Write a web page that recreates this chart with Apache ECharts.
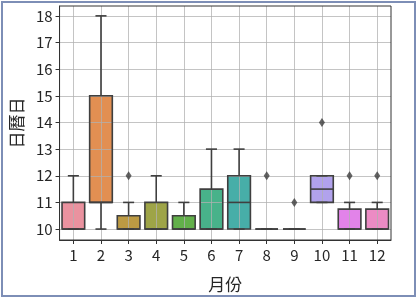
<!DOCTYPE html>
<html>
<head>
<meta charset="utf-8">
<script src="https://cdn.jsdelivr.net/npm/echarts@6/dist/echarts.min.js"></script>
<style>
html,body{margin:0;padding:0;background:#fff;}
#c{width:417px;height:298px;}
#f{position:absolute;left:1px;top:1px;width:415px;height:296px;border:2px solid #7d8eb6;box-sizing:border-box;pointer-events:none;}
</style>
</head>
<body>
<div id="c"></div>
<div id="f"></div>
<script>
const months = ['1','2','3','4','5','6','7','8','9','10','11','12'];
// [min, q1, median, q3, max]
const boxStats = [
  [10, 10, 10, 11, 12],
  [10, 11, 11, 15, 18],
  [10, 10, 10, 10.5, 11],
  [10, 10, 10, 11, 12],
  [10, 10, 10, 10.5, 11],
  [10, 10, 10, 11.5, 13],
  [10, 10, 11, 12, 13],
  [10, 10, 10, 10, 10],
  [10, 10, 10, 10, 10],
  [11, 11, 11.5, 12, 12],
  [10, 10, 10, 10.75, 11],
  [10, 10, 10, 10.75, 11]
];
const outliers = [[3, 12], [8, 12], [9, 11], [10, 14], [11, 12], [12, 12]];
const boxColors = ['#ea929f','#e28f52','#bc9a43','#9ea447','#62b04a','#48b28a','#47aea8','#4aaac0','#5aa3e0','#b1a2ec','#e283e9','#ec8bc4'];
const yTicks = [10, 11, 12, 13, 14, 15, 16, 17, 18];
const xTicks = [1,2,3,4,5,6,7,8,9,10,11,12];

const boxData = boxStats.map((s, i) => [i + 1].concat(s));
const edge = '#3f3f3f';
const font = "'Noto Sans CJK TC', 'DejaVu Sans', sans-serif";

function geom(api) {
  const x = api.value(0);
  return {
    bw: api.size([0.82, 0])[0],
    cw: api.size([0.4, 0])[0],
    cx: api.coord([x, api.value(1)])[0],
    yMin: api.coord([x, api.value(1)])[1],
    yQ1: api.coord([x, api.value(2)])[1],
    yMed: api.coord([x, api.value(3)])[1],
    yQ3: api.coord([x, api.value(4)])[1],
    yMax: api.coord([x, api.value(5)])[1]
  };
}

const chart = echarts.init(document.getElementById('c'));
chart.setOption({
  animation: false,
  backgroundColor: '#fff',
  grid: {left: 56, right: 26, top: 6, bottom: 55, show: true, borderColor: '#333', borderWidth: 1, z: 10},
  xAxis: {
    type: 'value', min: 0.5, max: 12.5, z: 2,
    name: '月份', nameLocation: 'middle', nameGap: 36,
    nameTextStyle: {fontSize: 17, color: '#262626', fontFamily: font},
    axisLine: {show: true, onZero: false, lineStyle: {color: '#333', width: 1}},
    axisTick: {show: true, length: 4, customValues: xTicks, lineStyle: {color: '#333'}},
    axisLabel: {customValues: xTicks, formatter: v => months[v - 1], fontSize: 15, color: '#262626', fontFamily: font, margin: 8},
    splitLine: {show: true, lineStyle: {color: 'rgba(176,176,176,0.75)', width: 1}}
  },
  yAxis: {
    type: 'value', min: 9.59, max: 18.37, z: 2,
    name: '日曆日', nameLocation: 'middle', nameGap: 30, nameRotate: 90,
    nameTextStyle: {fontSize: 17, color: '#262626', fontFamily: font},
    axisLine: {show: true, lineStyle: {color: '#333', width: 1}},
    axisTick: {show: true, length: 4, customValues: yTicks, lineStyle: {color: '#333'}},
    axisLabel: {customValues: yTicks, fontSize: 15, color: '#262626', fontFamily: font, margin: 7},
    splitLine: {show: true, lineStyle: {color: 'rgba(176,176,176,0.75)', width: 1}}
  },
  series: [
    {
      type: 'custom', z: 1,
      data: boxData,
      encode: {x: 0, y: [1, 2, 3, 4, 5]},
      renderItem: function (params, api) {
        const g = geom(api);
        return {type: 'rect', shape: {x: g.cx - g.bw / 2, y: g.yQ3, width: g.bw, height: g.yQ1 - g.yQ3},
          style: {fill: boxColors[params.dataIndex]}};
      }
    },
    {
      type: 'custom', z: 3,
      data: boxData,
      encode: {x: 0, y: [1, 2, 3, 4, 5]},
      renderItem: function (params, api) {
        const g = geom(api);
        const ls = {stroke: edge, lineWidth: 1.6};
        return {
          type: 'group',
          children: [
            {type: 'line', shape: {x1: g.cx, y1: g.yQ1, x2: g.cx, y2: g.yMin}, style: ls},
            {type: 'line', shape: {x1: g.cx, y1: g.yQ3, x2: g.cx, y2: g.yMax}, style: ls},
            {type: 'line', shape: {x1: g.cx - g.cw / 2, y1: g.yMin, x2: g.cx + g.cw / 2, y2: g.yMin}, style: ls},
            {type: 'line', shape: {x1: g.cx - g.cw / 2, y1: g.yMax, x2: g.cx + g.cw / 2, y2: g.yMax}, style: ls},
            {type: 'rect', shape: {x: g.cx - g.bw / 2, y: g.yQ3, width: g.bw, height: g.yQ1 - g.yQ3},
              style: {fill: null, stroke: edge, lineWidth: 1.6}},
            {type: 'line', shape: {x1: g.cx - g.bw / 2, y1: g.yMed, x2: g.cx + g.bw / 2, y2: g.yMed}, style: ls}
          ]
        };
      }
    },
    {
      type: 'scatter', z: 4,
      data: outliers,
      symbol: 'diamond', symbolSize: [6, 9],
      itemStyle: {color: '#3d3d3d'}
    }
  ]
});
</script>
</body>
</html>
